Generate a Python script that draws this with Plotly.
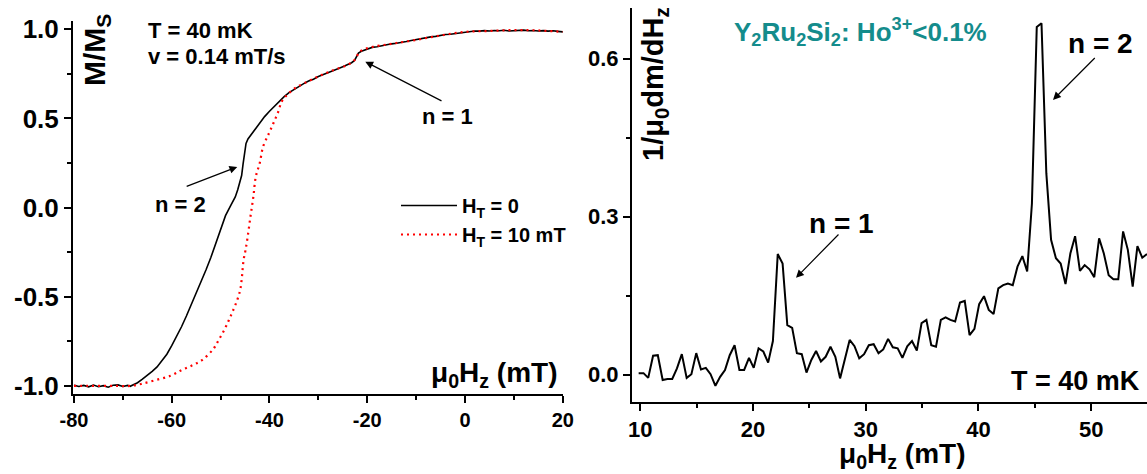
import plotly.graph_objects as go

W, H = 1147, 474
FONT = "Liberation Sans, Arial, Helvetica, sans-serif"

# ---------------- Left panel data: M/Ms vs field ----------------
BLACK_X = [-80, -79, -78, -77, -76, -75, -74, -73, -72, -71,
           -70, -69, -68.5, -68, -67, -66, -65, -64, -63, -62,
           -61, -60, -59, -58, -57, -56, -55, -54, -53, -52,
           -51, -50, -49, -48, -47, -46.5, -46, -45.7, -45.4, -45.1,
           -44.8, -44.4, -44, -43.5, -43, -42.5, -42, -41, -40, -39,
           -38, -37, -36, -35, -34, -33, -32, -31, -30, -29,
           -28, -27, -26, -25, -24, -23.2, -22.6, -22.2, -21.8, -21.2,
           -20.5, -20, -19, -18, -17, -16, -15, -14, -13, -12,
           -11, -10, -9, -8, -7, -6, -5, -4, -3, -2,
           -1, 0, 1, 2, 3, 4, 5, 6, 7, 8,
           9, 10, 11, 12, 13, 14, 15, 16, 17, 18,
           19, 20]
BLACK_Y = [-0.996, -1.003, -0.997, -1.005, -0.995, -1.004, -0.998, -1.007, -0.996, -0.994,
           -1.003, -0.997, -1.002, -0.995, -0.982, -0.962, -0.942, -0.918, -0.893, -0.860,
           -0.822, -0.774, -0.722, -0.668, -0.608, -0.545, -0.478, -0.418, -0.350, -0.280,
           -0.200, -0.128, -0.045, 0.008, 0.060, 0.100, 0.142, 0.180, 0.245, 0.315,
           0.360, 0.385, 0.400, 0.418, 0.436, 0.455, 0.474, 0.510, 0.540, 0.568,
           0.594, 0.622, 0.645, 0.662, 0.682, 0.695, 0.710, 0.720, 0.735, 0.745,
           0.755, 0.768, 0.778, 0.790, 0.800, 0.812, 0.825, 0.848, 0.866, 0.876,
           0.884, 0.888, 0.898, 0.902, 0.908, 0.912, 0.918, 0.921, 0.928, 0.931,
           0.937, 0.942, 0.950, 0.952, 0.957, 0.960, 0.966, 0.970, 0.972, 0.976,
           0.979, 0.984, 0.987, 0.990, 0.989, 0.992, 0.990, 0.993, 0.991, 0.994,
           0.990, 0.993, 0.992, 0.995, 0.991, 0.993, 0.990, 0.992, 0.989, 0.991,
           0.988, 0.985]

RED_X = [-80, -77, -74, -71, -68.6, -66.3, -63.3, -60.25, -58, -55.7,
         -53.8, -51.5, -50.4, -49.25, -48.3, -47.5, -46.6, -46.0, -45.7, -45.3,
         -44.9, -44.47, -43.9, -43.3, -42.8, -42.0, -41.3, -40.1, -39.2, -38.2,
         -37.5, -36.4, -34.8, -32.9, -30, -27, -24, -22.5, -21.5, -19,
         -15, -10, -5, 0, 5, 10, 15, 20]
RED_Y = [-1.0, -1.0, -1.0, -1.0, -1.0, -0.989, -0.967, -0.943, -0.911, -0.883,
         -0.855, -0.793, -0.743, -0.686, -0.630, -0.580, -0.518, -0.462, -0.406, -0.294,
         -0.238, -0.165, -0.051, 0.061, 0.173, 0.249, 0.342, 0.417, 0.473, 0.538,
         0.594, 0.632, 0.669, 0.697, 0.735, 0.770, 0.800, 0.830, 0.875, 0.900,
         0.918, 0.940, 0.965, 0.985, 0.990, 0.995, 0.993, 0.985]

# ---------------- Right panel data: dm/dH vs field ----------------
DERIV_X = [9.85, 10.28, 10.70, 11.13, 11.55, 11.98, 12.40, 12.83, 13.25, 13.68,
           14.11, 14.53, 14.96, 15.38, 15.81, 16.23, 16.66, 17.08, 17.51, 17.93,
           18.36, 18.79, 19.21, 19.64, 20.06, 20.49, 20.91, 21.34, 21.76, 22.19,
           22.62, 23.04, 23.47, 23.89, 24.32, 24.74, 25.17, 25.59, 26.02, 26.44,
           26.87, 27.30, 27.72, 28.15, 28.57, 29.00, 29.42, 29.85, 30.27, 30.70,
           31.13, 31.55, 31.98, 32.40, 32.83, 33.25, 33.68, 34.10, 34.53, 34.95,
           35.38, 35.81, 36.23, 36.66, 37.08, 37.51, 37.93, 38.36, 38.78, 39.21,
           39.64, 40.06, 40.49, 40.91, 41.34, 41.76, 42.19, 42.61, 43.04, 43.46,
           43.89, 44.32, 44.74, 45.17, 45.59, 46.02, 46.44, 46.87, 47.29, 47.72,
           48.15, 48.57, 49.00, 49.42, 49.85, 50.27, 50.70, 51.12, 51.55, 51.97,
           52.40, 52.83, 53.25, 53.68, 54.10, 54.53, 54.95]
DERIV_Y = [0.003, 0.003, -0.006, 0.036, 0.037, -0.010, -0.008, -0.008, 0.012, 0.039,
           -0.006, 0.001, 0.041, 0.010, 0.013, 0.001, -0.021, -0.004, 0.009, 0.037,
           0.056, 0.009, 0.009, 0.032, 0.013, 0.050, 0.044, 0.023, 0.064, 0.229,
           0.211, 0.094, 0.089, 0.041, 0.039, 0.004, 0.028, 0.045, 0.025, 0.034,
           0.053, 0.034, -0.007, 0.028, 0.066, 0.054, 0.031, 0.039, 0.056, 0.058,
           0.041, 0.048, 0.068, 0.052, 0.050, 0.032, 0.054, 0.064, 0.046, 0.098,
           0.104, 0.056, 0.053, 0.104, 0.109, 0.104, 0.101, 0.137, 0.140, 0.075,
           0.087, 0.134, 0.149, 0.123, 0.115, 0.164, 0.170, 0.173, 0.170, 0.205,
           0.225, 0.196, 0.325, 0.660, 0.667, 0.382, 0.256, 0.221, 0.211, 0.172,
           0.230, 0.263, 0.197, 0.208, 0.200, 0.185, 0.259, 0.230, 0.189, 0.181,
           0.181, 0.272, 0.237, 0.167, 0.244, 0.222, 0.229]

# tick labels
LEFT_X_TICKS = [-80, -60, -40, -20, 0, 20]
LEFT_X_LABELS = ["-80", "-60", "-40", "-20", "0", "20"]
LEFT_Y_TICKS = [-1.0, -0.5, 0.0, 0.5, 1.0]
LEFT_Y_LABELS = ["-1.0", "-0.5", "0.0", "0.5", "1.0"]
RIGHT_X_TICKS = [10, 20, 30, 40, 50]
RIGHT_Y_TICKS = [0.0, 0.3, 0.6]
RIGHT_Y_LABELS = ["0.0", "0.3", "0.6"]


def px(x):
    return x / W


def py(y):
    return 1 - y / H


fig = go.Figure()
fig.add_trace(go.Scatter(x=BLACK_X, y=BLACK_Y, mode="lines", name="H<sub>T</sub> = 0",
                         line=dict(color="black", width=1.6), xaxis="x", yaxis="y"))
fig.add_trace(go.Scatter(x=RED_X, y=RED_Y, mode="lines", name="H<sub>T</sub> = 10 mT",
                         line=dict(color="#ff0000", width=2.2, dash="2px,4px", shape="spline"),
                         xaxis="x", yaxis="y"))
fig.add_trace(go.Scatter(x=DERIV_X, y=DERIV_Y, mode="lines", showlegend=False,
                         line=dict(color="black", width=2), xaxis="x2", yaxis="y2"))

axis_common = dict(showline=True, linecolor="black", linewidth=2, ticks="outside",
                   ticklen=7, tickwidth=2, tickcolor="black", showgrid=False,
                   zeroline=False, mirror=False, fixedrange=True, automargin=False)

fig.update_layout(
    width=W, height=H,
    margin=dict(l=0, r=0, t=0, b=0, autoexpand=False),
    paper_bgcolor="white", plot_bgcolor="white",
    font=dict(family=FONT, color="black"),
    showlegend=True,
    legend=dict(x=px(396), y=py(186), xanchor="left", yanchor="top",
                bgcolor="rgba(0,0,0,0)", borderwidth=0, tracegroupgap=0,
                itemwidth=56,
                font=dict(family=FONT, size=20, color="black", weight="bold")),
    xaxis=dict(domain=[px(73), px(563)], range=[-80.2, 20.05], anchor="y",
               tickmode="array", tickvals=LEFT_X_TICKS, ticktext=LEFT_X_LABELS,
               tickfont=dict(family=FONT, size=20, weight="bold"),
               minor=dict(tickmode="linear", tick0=-80, dtick=10, ticks="outside",
                          ticklen=4, tickwidth=2, tickcolor="black"),
               **axis_common),
    yaxis=dict(domain=[py(394), py(21)], range=[-1.045, 1.046], anchor="x",
               tickmode="array", tickvals=LEFT_Y_TICKS, ticktext=LEFT_Y_LABELS,
               tickfont=dict(family=FONT, size=26, weight="bold"),
               minor=dict(tickmode="linear", tick0=-1, dtick=0.25, ticks="outside",
                          ticklen=4, tickwidth=2, tickcolor="black"),
               **axis_common),
    xaxis2=dict(domain=[px(632), 1.0], range=[9.26, 54.95], anchor="y2",
                tickmode="array", tickvals=RIGHT_X_TICKS,
                tickfont=dict(family=FONT, size=22, weight="bold"),
                minor=dict(tickmode="linear", tick0=10, dtick=5, ticks="outside",
                           ticklen=4, tickwidth=2, tickcolor="black"),
                **axis_common),
    yaxis2=dict(domain=[py(402), py(8)], range=[-0.0518, 0.696], anchor="x2",
                tickmode="array", tickvals=RIGHT_Y_TICKS, ticktext=RIGHT_Y_LABELS,
                tickfont=dict(family=FONT, size=22, weight="bold"),
                minor=dict(tickmode="linear", tick0=0, dtick=0.15, ticks="outside",
                           ticklen=4, tickwidth=2, tickcolor="black"),
                **axis_common),
)


def text_ann(x, y, text, size, xanchor="center", yanchor="middle", angle=0, color="black"):
    fig.add_annotation(x=px(x), y=py(y), xref="paper", yref="paper", text=text,
                       showarrow=False, xanchor=xanchor, yanchor=yanchor, textangle=angle,
                       font=dict(family=FONT, size=size, color=color, weight="bold"))


def arrow(xref, yref, head, tail):
    fig.add_annotation(x=head[0], y=head[1], ax=tail[0], ay=tail[1], xref=xref, yref=yref,
                       axref=xref, ayref=yref, text="", showarrow=True, arrowhead=2,
                       arrowsize=1.3, arrowwidth=1.2, arrowcolor="black")


# left panel texts
text_ann(146, 30, "T = 40 mK", 22, xanchor="left")
text_ann(146, 56, "v = 0.14 mT/s", 22, xanchor="left")
text_ann(447, 116, "n = 1", 22)
text_ann(180, 205, "n = 2", 22)
text_ann(560, 374, "\u03bc<sub>0</sub>H<sub>z</sub> (mT)", 28, xanchor="right")
text_ann(96, 50, "M/M<sub>S</sub>", 30, angle=-90)
arrow("x", "y", (-20.4, 0.818), (-4.5, 0.594))
arrow("x", "y", (-46.6, 0.228), (-57.25, 0.116))

# right panel texts
text_ann(732, 32, "Y<sub>2</sub>Ru<sub>2</sub>Si<sub>2</sub>: Ho<sup>3+</sup>&lt;0.1%", 26,
         xanchor="left", color="#148c8c")
text_ann(1100, 44, "n = 2", 28)
text_ann(841, 223, "n = 1", 28)
text_ann(1142, 381, "T = 40 mK", 27, xanchor="right")
text_ann(902, 455, "\u03bc<sub>0</sub>H<sub>z</sub> (mT)", 28)
text_ann(655, 84, "1/\u03bc<sub>0</sub>dm/dH<sub>z</sub>", 29, angle=-90)
arrow("x2", "y2", (23.81, 0.184), (27.71, 0.269))
arrow("x2", "y2", (46.61, 0.5216), (50.45, 0.604))

fig.write_html(
    "out.html",
    config={"responsive": False, "displayModeBar": False},
    post_script="document.body.style.margin='0';document.body.style.overflow='hidden';",
)
